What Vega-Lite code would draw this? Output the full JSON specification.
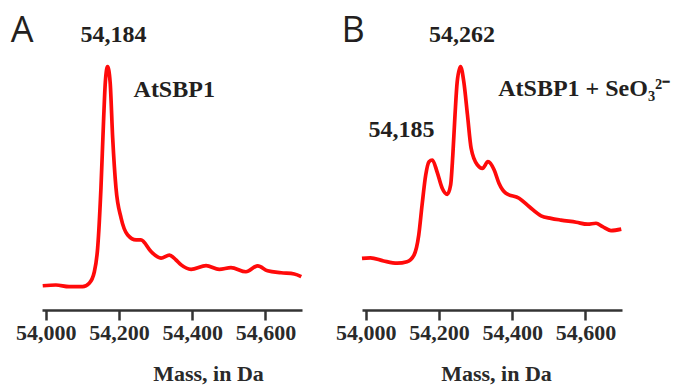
{
  "$schema": "https://vega.github.io/schema/vega-lite/v6.json",
  "padding": {"left": 10, "top": 13, "right": 5, "bottom": 2},
  "background": "white",
  "spacing": 26,
  "datasets": {
    "a": [
      {"mass": 53992, "intensity": 9.9},
      {"mass": 54028, "intensity": 10.2},
      {"mass": 54064, "intensity": 9.5},
      {"mass": 54101, "intensity": 9.5},
      {"mass": 54119, "intensity": 10.9},
      {"mass": 54133, "intensity": 15.6},
      {"mass": 54142, "intensity": 25.3},
      {"mass": 54151, "intensity": 49.8},
      {"mass": 54158, "intensity": 76.8},
      {"mass": 54163, "intensity": 93.1},
      {"mass": 54169, "intensity": 99.3},
      {"mass": 54176, "intensity": 93.1},
      {"mass": 54183, "intensity": 70.2},
      {"mass": 54192, "intensity": 49.8},
      {"mass": 54206, "intensity": 37.5},
      {"mass": 54224, "intensity": 30.6},
      {"mass": 54247, "intensity": 28.6},
      {"mass": 54260, "intensity": 28.6},
      {"mass": 54288, "intensity": 23.8},
      {"mass": 54315, "intensity": 21.2},
      {"mass": 54338, "intensity": 22.4},
      {"mass": 54356, "intensity": 20.4},
      {"mass": 54370, "intensity": 18.4},
      {"mass": 54397, "intensity": 16.6},
      {"mass": 54438, "intensity": 18.1},
      {"mass": 54474, "intensity": 16.6},
      {"mass": 54506, "intensity": 17.3},
      {"mass": 54547, "intensity": 15.6},
      {"mass": 54579, "intensity": 18.0},
      {"mass": 54606, "intensity": 16.0},
      {"mass": 54643, "intensity": 15.2},
      {"mass": 54679, "intensity": 14.7},
      {"mass": 54698, "intensity": 13.6}
    ],
    "b": [
      {"mass": 53990, "intensity": 21.1},
      {"mass": 54013, "intensity": 21.3},
      {"mass": 54049, "intensity": 20.0},
      {"mass": 54086, "intensity": 19.1},
      {"mass": 54113, "intensity": 19.7},
      {"mass": 54132, "intensity": 22.4},
      {"mass": 54145, "intensity": 30.6},
      {"mass": 54154, "intensity": 42.8},
      {"mass": 54164, "intensity": 55.1},
      {"mass": 54173, "intensity": 60.5},
      {"mass": 54182, "intensity": 61.2},
      {"mass": 54195, "intensity": 56.4},
      {"mass": 54209, "intensity": 49.7},
      {"mass": 54223, "intensity": 47.2},
      {"mass": 54232, "intensity": 51.0},
      {"mass": 54238, "intensity": 63.2},
      {"mass": 54244, "intensity": 79.6},
      {"mass": 54250, "intensity": 93.1},
      {"mass": 54259, "intensity": 99.3},
      {"mass": 54268, "intensity": 93.1},
      {"mass": 54278, "intensity": 79.6},
      {"mass": 54288, "intensity": 66.0},
      {"mass": 54305, "intensity": 59.2},
      {"mass": 54319, "intensity": 57.8},
      {"mass": 54334, "intensity": 60.5},
      {"mass": 54351, "intensity": 57.1},
      {"mass": 54364, "intensity": 51.7},
      {"mass": 54383, "intensity": 47.6},
      {"mass": 54419, "intensity": 45.6},
      {"mass": 54447, "intensity": 42.1},
      {"mass": 54479, "intensity": 38.4},
      {"mass": 54506, "intensity": 37.4},
      {"mass": 54533, "intensity": 36.7},
      {"mass": 54575, "intensity": 35.8},
      {"mass": 54606, "intensity": 35.0},
      {"mass": 54629, "intensity": 35.4},
      {"mass": 54647, "intensity": 34.0},
      {"mass": 54670, "intensity": 32.4},
      {"mass": 54698, "intensity": 33.0}
    ],
    "annA": [
      {"mass": 54095, "intensity": 109.3, "label": "54,184"},
      {"mass": 54240, "intensity": 86.9, "label": "AtSBP1"}
    ],
    "annB": [
      {"mass": 54173, "intensity": 109.3, "label": "54,262"},
      {"mass": 54008, "intensity": 70.6, "label": "54,185"},
      {"mass": 54362, "intensity": 87.3, "label": "AtSBP1 + SeO₃²⁻"}
    ],
    "letterA": [{"mass": 53905, "intensity": 109.3, "label": "A"}],
    "letterB": [{"mass": 53934, "intensity": 109.3, "label": "B"}]
  },
  "hconcat": [
    {
      "width": 260,
      "height": 250,
      "encoding": {
        "x": {"field": "mass", "type": "quantitative",
          "scale": {"domain": [53990, 54700], "nice": false, "zero": false},
          "axis": {"title": "Mass, in Da", "values": [54000, 54200, 54400, 54600], "format": ",d", "titleX": 166}},
        "y": {"field": "intensity", "type": "quantitative",
          "scale": {"domain": [0, 102], "nice": false, "zero": false},
          "axis": null}
      },
      "layer": [
        {"data": {"name": "a"}, "mark": {"type": "line", "color": "#ff0a0a", "strokeWidth": 3.7, "interpolate": "monotone"}},
        {"data": {"name": "annA"}, "mark": {"type": "text", "align": "left", "baseline": "alphabetic", "font": "Liberation Serif", "fontWeight": "bold", "fontSize": 24, "color": "#231f20"},
          "encoding": {"text": {"field": "label"}}},
        {"data": {"name": "letterA"}, "mark": {"type": "text", "align": "left", "baseline": "alphabetic", "font": "Open Sans", "fontSize": 36, "color": "#231f20"},
          "encoding": {"text": {"field": "label"}}}
      ]
    },
    {
      "width": 260,
      "height": 250,
      "encoding": {
        "x": {"field": "mass", "type": "quantitative",
          "scale": {"domain": [53990, 54700], "nice": false, "zero": false},
          "axis": {"title": "Mass, in Da", "values": [54000, 54200, 54400, 54600], "format": ",d", "titleX": 134}},
        "y": {"field": "intensity", "type": "quantitative",
          "scale": {"domain": [0, 102], "nice": false, "zero": false},
          "axis": null}
      },
      "layer": [
        {"data": {"name": "b"}, "mark": {"type": "line", "color": "#ff0a0a", "strokeWidth": 3.7, "interpolate": "monotone"}},
        {"data": {"name": "annB"}, "mark": {"type": "text", "align": "left", "baseline": "alphabetic", "font": "Liberation Serif", "fontWeight": "bold", "fontSize": 24, "color": "#231f20"},
          "encoding": {"text": {"field": "label"}}},
        {"data": {"name": "letterB"}, "mark": {"type": "text", "align": "left", "baseline": "alphabetic", "font": "Open Sans", "fontSize": 36, "color": "#231f20"},
          "encoding": {"text": {"field": "label"}}}
      ]
    }
  ],
  "config": {
    "view": {"stroke": null},
    "axis": {
      "grid": false,
      "domainColor": "#333333",
      "domainWidth": 2.5,
      "tickColor": "#333333",
      "tickWidth": 2.5,
      "tickSize": 10,
      "labelFont": "Liberation Serif",
      "labelFontWeight": "bold",
      "labelFontSize": 22,
      "labelColor": "#2a2a2a",
      "labelPadding": 2,
      "labelFlush": false,
      "labelOverlap": false,
      "titleFont": "Liberation Serif",
      "titleFontWeight": "bold",
      "titleFontSize": 22,
      "titleColor": "#2a2a2a",
      "titlePadding": 20
    }
  }
}
